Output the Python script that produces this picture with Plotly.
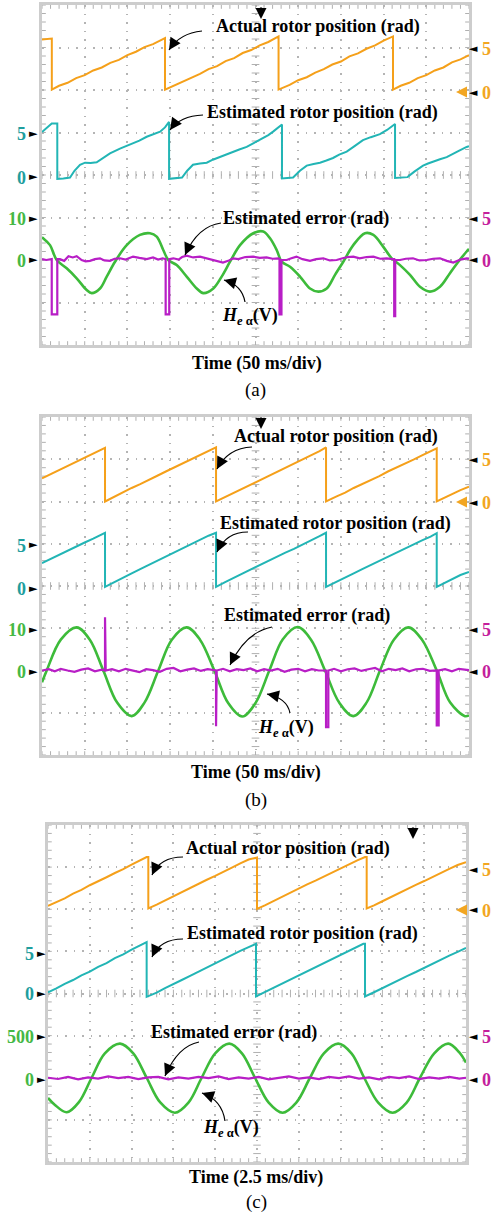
import math
import plotly.graph_objects as go

W, H = 495, 1217

# ---------------- Panel (a): 50 ms/div (time in ms, values in channel units) ----------------
A_ACTUAL = [(0, 5.95), (5, 6.0), (11.5, 6.05), (11.5, 0.05), (20, 0.5), (30, 0.85), (40, 1.4), (50, 1.75),
            (60, 2.3), (70, 2.65), (80, 3.2), (90, 3.55), (100, 4.1), (110, 4.5), (120, 5.05), (130, 5.4),
            (144, 6.1), (144, 0.05), (155, 0.55), (165, 0.95), (175, 1.5), (185, 1.9), (195, 2.45),
            (205, 2.8), (215, 3.4), (225, 3.75), (235, 4.35), (245, 4.7), (255, 5.25), (265, 5.65),
            (277, 6.3), (277, 0.05), (290, 0.6), (300, 1.15), (310, 1.5), (320, 2.05), (330, 2.45),
            (340, 3.0), (350, 3.35), (360, 3.95), (370, 4.3), (380, 4.85), (390, 5.25), (400, 5.8),
            (411, 6.3), (411, 0.05), (420, 0.5), (430, 0.85), (440, 1.4), (450, 1.75), (460, 2.3),
            (470, 2.65), (480, 3.25), (490, 3.6), (500, 4.1)]
A_EST = [(0, 5.05), (5, 5.5), (11.4, 6.05), (17.9, 6.05), (17.9, -0.45), (25, -0.4), (32.8, -0.3),
         (38, 0.5), (44.5, 1.2), (50.4, 1.45), (57, 1.4), (64, 1.5), (72, 2.05), (79.6, 2.55),
         (91.3, 3.1), (99, 3.4), (106.6, 3.7), (114, 4.05), (122.6, 4.5), (130, 4.8), (138.3, 5.1),
         (144, 5.6), (148.8, 6.25), (148.8, -0.45), (156, -0.4), (164, -0.3), (170, 0.5), (176.8, 1.2),
         (185, 1.35), (192.9, 1.45), (200, 1.8), (208.4, 2.15), (216, 2.45), (223.7, 2.75), (231, 3.0),
         (239.7, 3.3), (249, 3.8), (258.8, 4.35), (265, 4.7), (270.6, 5.1), (276, 5.5), (281, 5.95),
         (281, -0.4), (287, -0.35), (294, -0.3), (302, 0.5), (310, 1.1), (318, 1.3), (325.5, 1.45),
         (333, 1.7), (340.8, 2.0), (348, 2.4), (356.8, 2.75), (366, 3.4), (375.8, 4.1), (385, 4.45),
         (395.7, 4.8), (404, 5.3), (413.4, 6.0), (413.4, -0.35), (420, -0.3), (428, -0.25), (436, 0.4),
         (446.2, 1.1), (452, 1.35), (457.9, 1.6), (466, 1.85), (473.9, 2.1), (481, 2.5), (488, 2.85),
         (497.3, 3.3), (500, 3.4)]
A_HEA = [(0, 5.3), (1.5, 5.1), (9.4, 3.5), (17.2, 0), (28.9, -1.96), (40.6, -4.3), (52.3, -7.06), (58.2, -7.8),
         (67.9, -6.7), (75.8, -3.9), (85.5, -0.4), (99.2, 3.5), (114.7, 5.9), (126.4, 6.3), (134.3, 5.5),
         (142, 2.35), (147.9, 0), (157.7, -1.2), (169.4, -3.9), (181.2, -6.7), (188.9, -7.8), (200.6, -6.7),
         (210.4, -3.9), (220.2, -0.4), (231.9, 3.5), (247.4, 6.3), (259.1, 6.7), (267, 5.1), (274.8, 2.35),
         (280.7, -0.4), (290.4, -1.6), (302.1, -3.9), (313.8, -6.7), (323.5, -7.45), (333.4, -6.7),
         (343.1, -3.5), (352.8, -0.4), (364.5, 3.5), (378.2, 6.3), (388, 5.9), (399.7, 3.1), (409.5, 0.4),
         (419.2, -1.2), (430.9, -3.5), (442.6, -6.3), (454.3, -7.45), (466, -6.3), (477.7, -3.1),
         (487.5, -0.4), (497.3, 2.0), (500, 2.6)]
A_ERR = [(0, 0.1), (5, 0.0), (11.4, 0.1), (11.4, -6.4), (17.9, -6.4), (17.9, 0.1), (21, 0.1), (26, -0.1),
         (31, 0.45), (36, 0.3), (40.6, 0.45), (46.4, 0), (51, -0.15), (56.2, -0.1), (62, 0.1), (67.9, 0.2),
         (73, -0.05), (79.6, -0.1), (85, 0.15), (91.3, 0.2), (98, 0.05), (106.6, 0.4), (114, 0.25),
         (122.6, 0.1), (130, 0.3), (136, 0.05), (141.3, 0.2), (144.8, 0.1), (144.8, -6.4), (149, -6.4),
         (149, 0.1), (153.8, 0.2), (160, 0.05), (164, 0.35), (169.4, 0.5), (177, 0.3), (185, 0.4),
         (192, 0.2), (200.2, 0), (206, -0.2), (211.9, -0.3), (218, -0.1), (223.7, 0.2), (230, 0.1),
         (238, 0.35), (247.2, 0.4), (255, 0.25), (263, 0.3), (270, 0.15), (276.7, 0.2), (278.1, 0.1),
         (278.1, -6.4), (280.4, -6.4), (280.4, 0), (286.5, 0), (292, 0.2), (298, 0.4), (305, 0.1),
         (313.8, -0.1), (321, 0.1), (329.4, 0.2), (337, -0.05), (345, 0), (352, 0.2), (358, 0.35),
         (364.5, 0.4), (372, 0.2), (380, 0.35), (388, 0.4), (396, 0.15), (403.6, 0.2), (410.5, 0.1),
         (412.4, 0.1), (412.4, -6.6), (413.6, -6.6), (413.6, 0), (419.2, 0), (426, 0.15), (434.4, 0.2),
         (442, -0.05), (450.4, 0), (458, 0.15), (466, 0.2), (474, -0.1), (481.6, -0.3), (490, 0.05),
         (497.3, 0.2), (500, 0.15)]

# ---------------- Panel (b): 50 ms/div ----------------
B_ACTUAL = [(0, 2.75), (10, 3.25), (20, 3.7), (30, 4.25), (40, 4.7), (50, 5.2), (60, 5.65), (73.8, 6.35),
            (73.8, 0.0), (85, 0.6), (95, 1.05), (105, 1.6), (115, 2.05), (125, 2.6), (135, 3.05), (145, 3.55),
            (155, 4.05), (165, 4.5), (175, 5.05), (185, 5.5), (195, 6.0), (203.8, 6.4), (203.8, 0.0),
            (215, 0.55), (225, 1.05), (235, 1.5), (245, 2.05), (255, 2.5), (265, 3.0), (275, 3.5),
            (285, 4.0), (295, 4.45), (305, 5.0), (315, 5.45), (325, 5.95), (332.6, 6.4), (332.6, 0.0),
            (345, 0.6), (355, 1.05), (365, 1.6), (375, 2.05), (385, 2.55), (395, 3.0), (405, 3.55),
            (415, 4.0), (425, 4.5), (435, 4.95), (445, 5.45), (455, 5.9), (462.2, 6.3), (462.2, 0.0),
            (470, 0.4), (480, 0.85), (490, 1.35), (500, 1.75)]
B_EST = [(0, 2.7), (10, 3.2), (20, 3.65), (30, 4.2), (40, 4.65), (50, 5.15), (60, 5.6), (73.8, 6.3),
         (73.8, -0.1), (85, 0.5), (95, 1.0), (105, 1.5), (115, 2.0), (125, 2.5), (135, 3.0), (145, 3.5),
         (155, 4.0), (165, 4.45), (175, 5.0), (185, 5.45), (195, 5.95), (203.8, 6.3), (203.8, -0.1),
         (215, 0.5), (225, 1.0), (235, 1.45), (245, 2.0), (255, 2.45), (265, 2.95), (275, 3.45),
         (285, 3.95), (295, 4.4), (305, 4.95), (315, 5.4), (325, 5.9), (332.6, 6.3), (332.6, -0.1),
         (345, 0.55), (355, 1.0), (365, 1.5), (375, 2.0), (385, 2.5), (395, 2.95), (405, 3.5),
         (415, 3.95), (425, 4.45), (435, 4.9), (445, 5.4), (455, 5.85), (462.2, 6.25), (462.2, -0.1),
         (470, 0.3), (480, 0.8), (490, 1.3), (500, 1.65)]
B_HEA = [(0, -2.8), (5.5, 0), (22, 7.3), (40.6, 10.2), (56, 7.3), (71.8, 0), (88, -7.6), (105, -10.8),
         (120, -7.6), (136.2, 0), (152, 7.3), (169.4, 10.2), (185, 7.3), (201.8, 0), (218, -7.7),
         (234.5, -10.9), (250, -7.7), (266.2, 0), (282, 7.4), (299.4, 10.3), (315, 7.3), (331.4, 0),
         (348, -7.6), (364.5, -10.8), (380, -7.6), (395.8, 0), (412, 7.3), (428.9, 10.2), (445, 7.3),
         (462.2, 0), (478, -7.6), (495.3, -10.8), (500, -10.6)]
B_ERR = [(0, 0), (8, 0.15), (15, -0.1), (22, 0.2), (30, 0), (38, -0.15), (46, 0.1), (54, 0.25), (62, -0.1),
         (70, 0.1), (73.8, 0), (73.8, 6.3), (74.6, 6.3), (74.6, 0), (82, 0.15), (90, -0.1), (98, 0.2),
         (106, 0), (114, -0.2), (122, 0.15), (130, 0.05), (138, -0.15), (146, 0.2), (154, 0.3), (162, -0.1),
         (170, 0.1), (178, 0.25), (186, -0.05), (194, 0.15), (203.8, 0), (203.8, -6.6), (204.6, -6.6),
         (204.6, 0), (212, 0.2), (220, -0.1), (228, 0.15), (236, 0.05), (244, 0.25), (252, -0.1),
         (260, 0.15), (268, 0), (276, 0.2), (284, -0.15), (292, 0.1), (300, 0.2), (308, -0.1), (316, 0.15),
         (324, 0), (332.6, 0), (332.6, -6.7), (335.3, -6.7), (335.3, 0), (342, 0.2), (350, -0.1),
         (358, 0.15), (366, 0.25), (374, -0.05), (382, 0.15), (390, 0.3), (398, -0.1), (406, 0.2),
         (414, 0.05), (422, 0.25), (430, -0.1), (438, 0.15), (446, 0.2), (454, -0.05), (462.2, 0),
         (462.2, -6.5), (464.5, -6.5), (464.5, 0), (472, 0.15), (480, -0.1), (488, 0.2), (500, 0.05)]

# ---------------- Panel (c): 2.5 ms/div ----------------
C_ACTUAL = [(0, 0.4), (0.5, 0.85), (1, 1.3), (1.5, 1.85), (2, 2.3), (2.5, 2.85), (3, 3.3), (3.5, 3.8),
            (4, 4.3), (4.5, 4.75), (5, 5.3), (5.5, 5.8), (5.9, 6.2), (6.0, 6.2), (6.0, 0.1), (6.5, 0.55),
            (7, 1.05), (7.5, 1.5), (8, 2.05), (8.5, 2.5), (9, 3.0), (9.5, 3.5), (10, 3.95), (10.5, 4.5),
            (11, 4.95), (11.5, 5.45), (12, 5.9), (12.5, 6.15), (12.5, 0.05), (13, 0.5), (13.5, 1.0),
            (14, 1.5), (14.5, 1.95), (15, 2.45), (15.5, 2.95), (16, 3.4), (16.5, 3.9), (17, 4.4),
            (17.5, 4.85), (18, 5.35), (18.5, 5.8), (18.96, 6.2), (19.06, 6.2), (19.06, 0.1), (19.5, 0.45),
            (20, 0.95), (20.5, 1.45), (21, 1.9), (21.5, 2.4), (22, 2.9), (22.5, 3.35), (23, 3.85),
            (23.5, 4.3), (24, 4.8), (24.5, 5.25), (25, 5.6)]
C_EST = [(0, 0.15), (0.5, 0.6), (1, 1.15), (1.5, 1.6), (2, 2.15), (2.5, 2.6), (3, 3.15), (3.5, 3.6),
         (4, 4.2), (4.5, 4.65), (5, 5.2), (5.5, 5.7), (5.84, 6.1), (5.9, 6.1), (5.9, -0.4), (6.5, 0.1),
         (7, 0.65), (7.5, 1.1), (8, 1.6), (8.5, 2.1), (9, 2.6), (9.5, 3.1), (10, 3.55), (10.5, 4.1),
         (11, 4.55), (11.5, 5.05), (12, 5.5), (12.38, 5.9), (12.44, 5.9), (12.44, -0.35), (13, 0.2),
         (13.5, 0.7), (14, 1.15), (14.5, 1.7), (15, 2.15), (15.5, 2.65), (16, 3.1), (16.5, 3.65),
         (17, 4.1), (17.5, 4.6), (18, 5.05), (18.5, 5.55), (18.86, 5.9), (18.96, 5.9), (18.96, -0.35),
         (19.5, 0.15), (20, 0.65), (20.5, 1.1), (21, 1.6), (21.5, 2.1), (22, 2.55), (22.5, 3.05),
         (23, 3.55), (23.5, 4.0), (24, 4.5), (24.5, 4.95), (25, 5.4)]
C_HEA = [(0, -240), (0.4, -320), (1.12, -410), (1.85, -290), (2.61, 0), (3.4, 290), (4.31, 405), (5.1, 290),
         (5.9, 0), (6.7, -290), (7.59, -415), (8.4, -295), (9.19, 0), (10.0, 290), (10.84, 405),
         (11.6, 290), (12.38, 0), (13.2, -295), (14.03, -415), (14.85, -295), (15.67, 0), (16.5, 290),
         (17.36, 405), (18.15, 290), (18.91, 0), (19.75, -295), (20.61, -415), (21.45, -295), (22.25, 0),
         (23.1, 290), (23.94, 405), (24.6, 300), (25, 180)]
C_ERR = [(0, 0), (0.6, -0.15), (1.2, 0.1), (1.8, -0.2), (2.4, 0.05), (3, -0.1), (3.6, 0.15), (4.2, -0.05),
         (4.8, 0.1), (5.4, -0.15), (6, 0.05), (6.6, 0.1), (7.2, -0.2), (7.8, 0.05), (8.4, -0.1), (9, 0.1),
         (9.6, -0.05), (10.2, 0.15), (10.8, -0.15), (11.4, 0.05), (12, -0.1), (12.6, 0.1), (13.2, -0.2),
         (13.8, 0), (14.4, 0.15), (15, -0.1), (15.6, 0.05), (16.2, -0.15), (16.8, 0.1), (17.4, -0.05),
         (18, 0.15), (18.6, -0.1), (19.2, 0.05), (19.8, -0.2), (20.4, 0.1), (21, -0.05), (21.6, 0.15),
         (22.2, -0.15), (22.8, 0.05), (23.4, -0.1), (24, 0.1), (24.6, -0.1), (25, 0)]

# channel labels
TITLES = ["Time (50 ms/div)", "Time (50 ms/div)", "Time (2.5 ms/div)"]
PANEL_TAGS = ["(a)", "(b)", "(c)"]
GREEN_TOP_LABELS = ["10", "10", "500"]
TXT_ACTUAL = "Actual rotor position (rad)"
TXT_EST = "Estimated rotor position (rad)"
TXT_ERR = "Estimated error (rad)"
TXT_HEA = "<i>H</i><sub><i>e</i> α</sub>(V)"

TRACE_COLORS = ["#f5a01a", "#22b5b5", "#3dbb3a", "#b81ec6"]
LABEL_COLORS = {"orange": "#f2a622", "cyan": "#1f9e9e", "green": "#45b845", "magenta": "#c4209c"}
GRID = "#b4b4b4"
FRAME = "#cdcdcd"
TICK = "#b0b0b0"
SERIF = "Liberation Serif"

PANELS = [
    dict(box=(42, 5, 469, 345), xmax=500, gscale=10, data=(A_ACTUAL, A_EST, A_HEA, A_ERR)),
    dict(box=(42, 417, 469, 755), xmax=500, gscale=10, data=(B_ACTUAL, B_EST, B_HEA, B_ERR)),
    dict(box=(48, 825, 466, 1162), xmax=25, gscale=500, data=(C_ACTUAL, C_EST, C_HEA, C_ERR)),
]


def yname(n):
    return "yaxis" if n == 1 else f"yaxis{n}"


def yref(n):
    return "y" if n == 1 else f"y{n}"


fig = go.Figure()
layout = {}
shapes = []
annotations = []

for i, P in enumerate(PANELS):
    x0, y0, x1, y1 = P["box"]
    xd = [x0 / W, x1 / W]
    yd = [1 - y1 / H, 1 - y0 / H]
    xk = "xaxis" if i == 0 else f"xaxis{i + 1}"
    xr = "x" if i == 0 else f"x{i + 1}"
    base = 4 * i + 1
    xmax = P["xmax"]
    g = P["gscale"]
    # channel axes: cyan (base), orange, green, magenta
    ranges = {base: [-20, 20], base + 1: [-30, 10], base + 2: [-2 * g, 6 * g], base + 3: [-10, 30]}
    layout[xk] = dict(domain=xd, anchor=yref(base), range=[0, xmax], dtick=xmax / 10, tick0=0,
                      showgrid=True, gridcolor=GRID, griddash="1.5px,7px", gridwidth=1.5,
                      showticklabels=False, ticks="", showline=True, linecolor=FRAME, linewidth=2.5,
                      mirror=True, zeroline=False, fixedrange=True)
    layout[yname(base)] = dict(domain=yd, anchor=xr, range=ranges[base], dtick=5, tick0=0,
                               showgrid=True, gridcolor=GRID, griddash="1.5px,7px", gridwidth=1.5,
                               showticklabels=False, ticks="", showline=True, linecolor=FRAME,
                               linewidth=2.5, mirror=True, zeroline=False, fixedrange=True)
    for n in (base + 1, base + 2, base + 3):
        layout[yname(n)] = dict(overlaying=yref(base), anchor=xr, range=ranges[n], visible=False,
                                fixedrange=True)

    # tick marks on edges and centre cross (grid decoration)
    tx = xmax * 0.009
    ty = 0.45
    segs = []
    for k in range(-20, 21):
        segs.append(f"M0,{k} L{tx:.4f},{k}")
        segs.append(f"M{xmax},{k} L{xmax - tx:.4f},{k}")
        segs.append(f"M{xmax / 2 - tx:.4f},{k} L{xmax / 2 + tx:.4f},{k}")
    for j in range(51):
        xv = j * xmax / 50
        segs.append(f"M{xv:.4f},-20 L{xv:.4f},{-20 + ty}")
        segs.append(f"M{xv:.4f},20 L{xv:.4f},{20 - ty}")
        segs.append(f"M{xv:.4f},{-ty} L{xv:.4f},{ty}")
    shapes.append(dict(type="path", path=" ".join(segs), xref=xr, yref=yref(base),
                       line=dict(color=TICK, width=1), layer="below"))

    act, est, hea, err = P["data"]
    chans = [(act, base + 1, TRACE_COLORS[0], 2, "linear"),
             (est, base, TRACE_COLORS[1], 2, "linear"),
             (hea, base + 2, TRACE_COLORS[2], 2.6, "spline"),
             (err, base + 3, TRACE_COLORS[3], 2.2, "linear")]
    for pts, yn, col, wdt, shp in chans:
        fig.add_trace(go.Scatter(x=[p[0] for p in pts], y=[p[1] for p in pts], xaxis=xr, yaxis=yref(yn),
                                 mode="lines", line=dict(color=col, width=wdt, shape=shp),
                                 hoverinfo="skip", showlegend=False))


def text(px, py, s, size=18, color="black", xanchor="center", family=SERIF):
    annotations.append(dict(x=px / W, y=1 - py / H, xref="paper", yref="paper", text=s, showarrow=False,
                            font=dict(family=family, size=size, color=color), xanchor=xanchor,
                            yanchor="middle"))


def curved_arrow(start, ctrl, head):
    sx, sy = start
    cx, cy = ctrl
    hx, hy = head
    shapes.append(dict(type="path", xref="paper", yref="paper",
                       path=f"M {sx / W:.5f},{1 - sy / H:.5f} Q {cx / W:.5f},{1 - cy / H:.5f} "
                            f"{hx / W:.5f},{1 - hy / H:.5f}",
                       line=dict(color="black", width=1.2)))
    dx, dy = cx - hx, cy - hy
    n = math.hypot(dx, dy) or 1
    annotations.append(dict(x=hx / W, y=1 - hy / H, xref="paper", yref="paper", text="", showarrow=True,
                            ax=dx / n * 8, ay=dy / n * 8, arrowhead=2, arrowsize=2.0, arrowwidth=1.2,
                            arrowcolor="black", standoff=0))


def marker_arrow(head, vec, color, size=1.0, width=2):
    hx, hy = head
    annotations.append(dict(x=hx / W, y=1 - hy / H, xref="paper", yref="paper", text="", showarrow=True,
                            ax=vec[0], ay=vec[1], arrowhead=2, arrowsize=size, arrowwidth=width,
                            arrowcolor=color, standoff=0))


# --- panel texts ---
LBL = dict(
    a=dict(act=(318, 26), est=(322, 113), err=(306, 218), hea=(250, 316),
           arrows=[((202, 31), (180, 33), (169, 50)), ((203, 115), (180, 116), (170, 130)),
                   ((221, 223), (198, 226), (185, 255)), ((245, 302), (242, 285), (224, 280))],
           title=(257, 363), tag=(255, 390), trig=(261, 19),
           left=dict(tri=33, nr=28, c5=133, c0=177, g10=218, g0=260),
           right=dict(o5=48, o0=92, m5=218, m0=260)),
    b=dict(act=(336, 437), est=(335, 523), err=(307, 615), hea=(286, 728),
           arrows=[((252, 447), (228, 448), (217, 469)), ((248, 532), (226, 532), (217, 552)),
                   ((272, 627), (246, 632), (230, 665)), ((290, 713), (287, 698), (267, 694))],
           title=(256, 772), tag=(256, 800), trig=(261, 429),
           left=dict(tri=33, nr=28, c5=545, c0=588, g10=629, g0=671),
           right=dict(o5=459, o0=502, m5=629, m0=671)),
    c=dict(act=(288, 848), est=(302, 933), err=(234, 1032), hea=(231, 1128),
           arrows=[((183, 857), (160, 857), (152, 875)), ((183, 939), (160, 939), (152, 957)),
                   ((199, 1042), (178, 1046), (165, 1076)), ((225, 1121), (222, 1100), (202, 1093))],
           title=(256, 1177), tag=(256, 1202), trig=(413, 839),
           left=dict(tri=41, nr=36, c5=953, c0=993, g10=1036, g0=1079),
           right=dict(o5=869, o0=910, m5=1036, m0=1079)),
)

for i, key in enumerate(["a", "b", "c"]):
    L = LBL[key]
    text(*L["act"], f"<b>{TXT_ACTUAL}</b>")
    text(*L["est"], f"<b>{TXT_EST}</b>")
    text(*L["err"], f"<b>{TXT_ERR}</b>")
    text(*L["hea"], f"<b>{TXT_HEA}</b>")
    for a in L["arrows"]:
        curved_arrow(*a)
    text(*L["title"], f"<b>{TITLES[i]}</b>")
    text(*L["tag"], PANEL_TAGS[i], size=19)
    marker_arrow(L["trig"], (0, -13), "black", size=1.0, width=2.2)
    lf = L["left"]
    for num, py, col in [("5", lf["c5"], LABEL_COLORS["cyan"]), ("0", lf["c0"], LABEL_COLORS["cyan"]),
                         (GREEN_TOP_LABELS[i], lf["g10"], LABEL_COLORS["green"]),
                         ("0", lf["g0"], LABEL_COLORS["green"])]:
        text(lf["nr"], py + 1, f"<b>{num}</b>", color=col, xanchor="right")
        text(lf["tri"], py, "►", size=11, family="DejaVu Sans")
    rt = L["right"]
    for num, py, col in [("5", rt["o5"], LABEL_COLORS["orange"]), ("0", rt["o0"], LABEL_COLORS["orange"]),
                         ("5", rt["m5"], LABEL_COLORS["magenta"]), ("0", rt["m0"], LABEL_COLORS["magenta"])]:
        text(473, py, "◄", size=11, family="DejaVu Sans")
        text(480, py + 1, f"<b>{num}</b>", color=col, xanchor="left")
    marker_arrow((456, rt["o0"]), (11, 0), LABEL_COLORS["orange"], size=1.0, width=2.2)

layout.update(width=W, height=H, margin=dict(l=0, r=0, t=0, b=0), paper_bgcolor="white",
              plot_bgcolor="white", showlegend=False, shapes=shapes, annotations=annotations)
fig.update_layout(**layout)
fig.write_html("out.html")
